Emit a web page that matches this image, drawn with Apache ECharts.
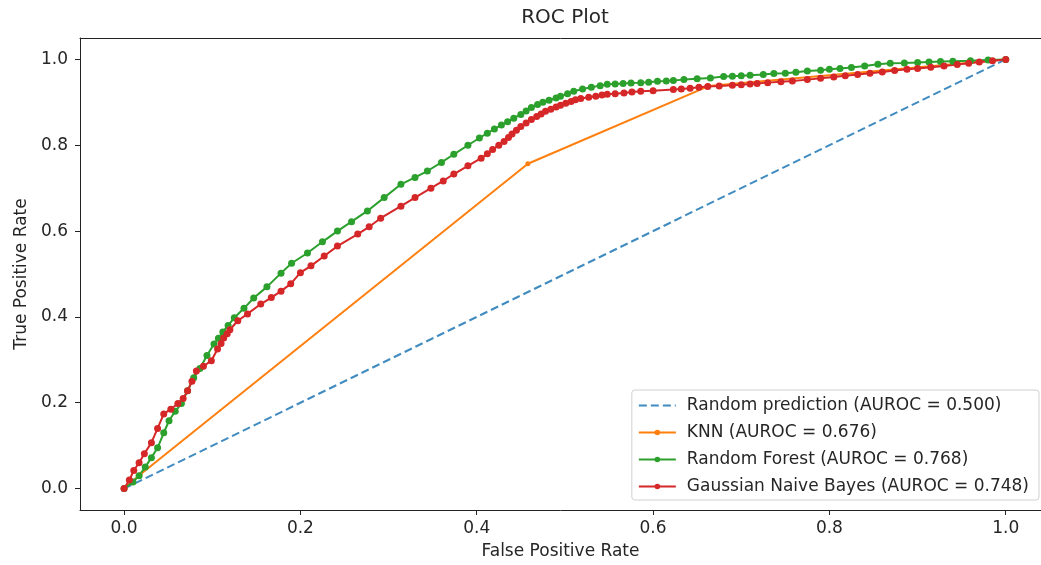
<!DOCTYPE html>
<html>
<head>
<meta charset="utf-8">
<script src="https://cdn.jsdelivr.net/npm/echarts@6/dist/echarts.min.js"></script>
<style>
  html, body { margin: 0; padding: 0; background: #fff; }
  #chart { width: 1041px; height: 565px; }
</style>
</head>
<body>
<div id="chart"></div>
<script>
// 刻度
const tickValues = [0, 0.2, 0.4, 0.6, 0.8, 1.0]

// Random prediction
const randFpr = [0, 1]
const randTpr = [0, 1]

// KNN
const knnFpr = [0, 0.018, 0.458, 0.663, 1.0]
const knnTpr = [0, 0.032, 0.757, 0.938, 1.0]

// Random Forest
const rfFpr = [0, 0.010, 0.017, 0.024, 0.031, 0.038, 0.045, 0.051, 0.058, 0.065, 0.072, 0.079, 0.086, 0.094, 0.102, 0.107, 0.112, 0.118, 0.125, 0.136, 0.147, 0.162, 0.178, 0.190, 0.208, 0.225, 0.242, 0.258, 0.276, 0.295, 0.314, 0.330, 0.344, 0.360, 0.374, 0.390, 0.403, 0.412, 0.420, 0.428, 0.435, 0.442, 0.450, 0.456, 0.462, 0.469, 0.475, 0.482, 0.490, 0.495, 0.503, 0.510, 0.520, 0.530, 0.540, 0.548, 0.557, 0.566, 0.575, 0.586, 0.595, 0.605, 0.615, 0.623, 0.635, 0.650, 0.665, 0.680, 0.690, 0.700, 0.710, 0.725, 0.737, 0.750, 0.762, 0.775, 0.790, 0.800, 0.812, 0.825, 0.840, 0.855, 0.869, 0.885, 0.900, 0.913, 0.926, 0.940, 0.960, 0.980, 1.0]
const rfTpr = [0, 0.015, 0.030, 0.050, 0.072, 0.095, 0.130, 0.158, 0.180, 0.198, 0.228, 0.258, 0.280, 0.310, 0.337, 0.350, 0.365, 0.380, 0.398, 0.420, 0.444, 0.470, 0.502, 0.525, 0.549, 0.575, 0.600, 0.622, 0.647, 0.678, 0.709, 0.725, 0.740, 0.760, 0.779, 0.800, 0.817, 0.828, 0.838, 0.847, 0.855, 0.863, 0.872, 0.880, 0.888, 0.895, 0.900, 0.905, 0.910, 0.914, 0.920, 0.926, 0.931, 0.935, 0.939, 0.942, 0.943, 0.944, 0.945, 0.946, 0.947, 0.949, 0.950, 0.951, 0.953, 0.955, 0.957, 0.960, 0.961, 0.962, 0.963, 0.965, 0.967, 0.968, 0.970, 0.973, 0.975, 0.977, 0.979, 0.981, 0.985, 0.989, 0.991, 0.992, 0.993, 0.994, 0.995, 0.996, 0.997, 0.999, 1.0]

// Gaussian Naive Bayes
const gnbFpr = [0, 0.006, 0.011, 0.017, 0.023, 0.031, 0.038, 0.045, 0.053, 0.061, 0.067, 0.072, 0.077, 0.082, 0.090, 0.099, 0.106, 0.110, 0.113, 0.117, 0.120, 0.129, 0.140, 0.155, 0.167, 0.178, 0.189, 0.200, 0.212, 0.227, 0.242, 0.265, 0.278, 0.291, 0.314, 0.330, 0.348, 0.362, 0.374, 0.390, 0.405, 0.412, 0.418, 0.425, 0.431, 0.436, 0.440, 0.445, 0.450, 0.456, 0.462, 0.468, 0.473, 0.478, 0.484, 0.490, 0.495, 0.501, 0.507, 0.512, 0.518, 0.527, 0.535, 0.542, 0.548, 0.557, 0.567, 0.576, 0.586, 0.600, 0.623, 0.632, 0.642, 0.652, 0.662, 0.675, 0.690, 0.700, 0.710, 0.718, 0.730, 0.745, 0.758, 0.775, 0.790, 0.805, 0.818, 0.832, 0.846, 0.860, 0.874, 0.888, 0.900, 0.915, 0.930, 0.945, 0.958, 0.970, 0.985, 1.0]
const gnbTpr = [0, 0.020, 0.042, 0.060, 0.081, 0.107, 0.140, 0.174, 0.185, 0.198, 0.210, 0.228, 0.250, 0.274, 0.285, 0.298, 0.325, 0.338, 0.351, 0.361, 0.370, 0.391, 0.407, 0.430, 0.445, 0.460, 0.477, 0.503, 0.519, 0.542, 0.565, 0.593, 0.610, 0.630, 0.658, 0.678, 0.700, 0.717, 0.733, 0.752, 0.770, 0.780, 0.790, 0.800, 0.809, 0.818, 0.826, 0.835, 0.844, 0.852, 0.860, 0.867, 0.873, 0.879, 0.884, 0.889, 0.893, 0.898, 0.902, 0.906, 0.909, 0.912, 0.914, 0.917, 0.919, 0.920, 0.922, 0.924, 0.926, 0.927, 0.930, 0.931, 0.933, 0.935, 0.937, 0.938, 0.940, 0.941, 0.943, 0.944, 0.946, 0.948, 0.950, 0.953, 0.956, 0.959, 0.962, 0.965, 0.968, 0.971, 0.974, 0.977, 0.979, 0.982, 0.985, 0.988, 0.991, 0.994, 0.997, 1.0]

const zip = (xs, ys) => xs.map((x, i) => [x, ys[i]])

const font = 'DejaVu Sans'
const textColor = '#262626'
const spineColor = '#222'

const chart = echarts.init(document.getElementById('chart'))

const mkLine = (name, xs, ys, color, extra) => Object.assign({
  name: name,
  type: 'line',
  data: zip(xs, ys),
  symbol: 'circle',
  symbolSize: 7,
  showAllSymbol: true,
  lineStyle: { color: color, width: 2 },
  itemStyle: { color: color },
  emphasis: { disabled: true }
}, extra || {})

const labelStyle = {
  customValues: tickValues,
  formatter: v => v.toFixed(1),
  fontFamily: font, fontSize: 17, color: textColor
}

chart.setOption({
  animation: false,
  title: {
    text: 'ROC Plot',
    left: 560,
    textAlign: 'center',
    top: 3,
    textStyle: { fontFamily: font, fontSize: 20, fontWeight: 'normal', color: textColor }
  },
  grid: {
    left: 80, right: 0, top: 38, bottom: 55,
    containLabel: false,
    outerBoundsMode: 'none'
  },
  legend: {
    orient: 'vertical',
    right: 2,
    bottom: 65,
    padding: [7, 10, 5, 6],
    itemWidth: 37,
    itemHeight: 7,
    itemGap: 10,
    borderColor: '#d0d0d0',
    borderWidth: 1,
    borderRadius: 3,
    backgroundColor: 'rgba(255,255,255,0.8)',
    textStyle: { fontFamily: font, fontSize: 17, color: textColor, padding: [0, 0, 0, 6] },
    data: [
      { name: 'Random prediction (AUROC = 0.500)', itemStyle: { opacity: 0 } },
      'KNN (AUROC = 0.676)',
      'Random Forest (AUROC = 0.768)',
      'Gaussian Naive Bayes (AUROC = 0.748)'
    ]
  },
  xAxis: [{
    type: 'value',
    min: -0.05,
    max: 1.04,
    name: 'False Positive Rate',
    nameLocation: 'middle',
    nameGap: 33,
    nameTextStyle: { fontFamily: font, fontSize: 17, color: textColor },
    splitLine: { show: false },
    axisLine: { show: true, onZero: false, lineStyle: { color: spineColor } },
    axisTick: { show: true, length: 5, customValues: tickValues, lineStyle: { color: spineColor } },
    axisLabel: Object.assign({ margin: 10 }, labelStyle)
  }, {
    // 上边框
    type: 'value',
    position: 'top',
    min: -0.05,
    max: 1.04,
    splitLine: { show: false },
    axisLine: { show: true, onZero: false, lineStyle: { color: spineColor } },
    axisTick: { show: false },
    axisLabel: { show: false }
  }],
  yAxis: {
    type: 'value',
    min: -0.05,
    max: 1.05,
    name: 'True Positive Rate',
    nameLocation: 'middle',
    nameGap: 50,
    nameTextStyle: { fontFamily: font, fontSize: 17, color: textColor },
    splitLine: { show: false },
    axisLine: { show: true, onZero: false, lineStyle: { color: spineColor } },
    axisTick: { show: true, length: 5, customValues: tickValues, lineStyle: { color: spineColor } },
    axisLabel: Object.assign({ margin: 12 }, labelStyle)
  },
  series: [
    mkLine('Random prediction (AUROC = 0.500)', randFpr, randTpr, '#1f77b4', {
      symbol: 'none',
      lineStyle: { color: '#1f77b4', width: 2, type: [8, 4], opacity: 0.85 }
    }),
    mkLine('KNN (AUROC = 0.676)', knnFpr, knnTpr, '#ff7f0e', { symbolSize: 5 }),
    mkLine('Random Forest (AUROC = 0.768)', rfFpr, rfTpr, '#2ca02c'),
    mkLine('Gaussian Naive Bayes (AUROC = 0.748)', gnbFpr, gnbTpr, '#d62728')
  ]
})
</script>
</body>
</html>
